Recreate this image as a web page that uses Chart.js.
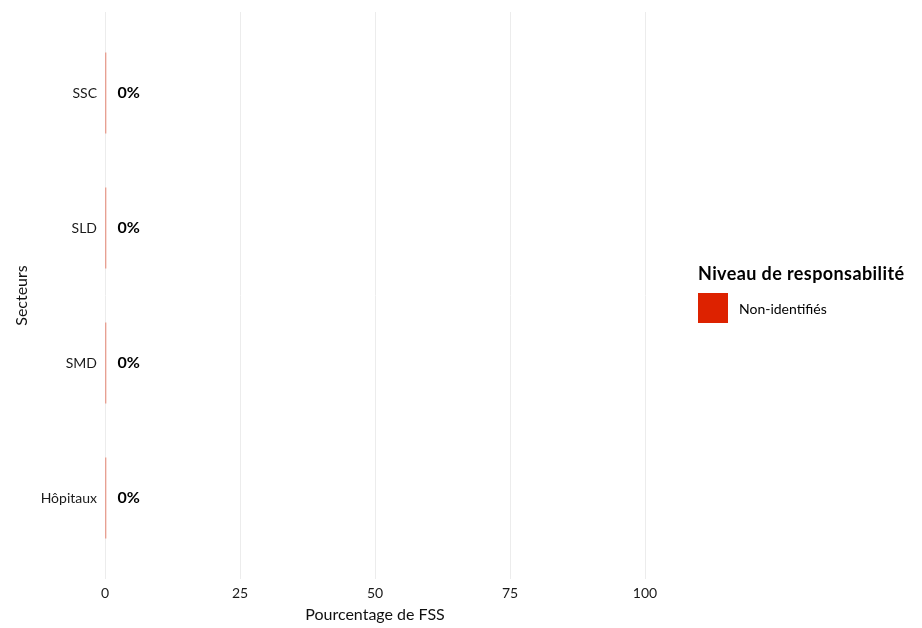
<!DOCTYPE html>
<html>
<head>
<meta charset="utf-8">
<script src="https://cdn.jsdelivr.net/npm/chart.js"></script>
<style>
  body { margin: 0; background: #fff; }
  #wrap { position: relative; width: 922px; height: 628px; font-family: Lato, "Open Sans", sans-serif; }
  #legend { position: absolute; left: 698px; top: 262px; color: #000; }
  #legend .title { font-weight: bold; font-size: 18px; letter-spacing: 0.4px; margin-bottom: 9px; }
  #legend .item { display: flex; align-items: center; font-size: 14px; }
  #legend .box { width: 30px; height: 30px; background: #DD2200; margin-right: 11px; }
</style>
</head>
<body>
<div id="wrap">
  <canvas id="chart" width="922" height="628"></canvas>
  <div id="legend">
    <div class="title">Niveau de responsabilité</div>
    <div class="item"><span class="box"></span><span>Non-identifiés</span></div>
  </div>
</div>
<script>
const categories = ['SSC', 'SLD', 'SMD', 'Hôpitaux'];
const values = [0, 0, 0, 0];
const xTicks = [0, 25, 50, 75, 100];

const fontFamily = 'Lato, "Open Sans", sans-serif';

// "0%" text next to each bar
const valueLabels = {
    id: 'valueLabels',
    afterDatasetsDraw(chart) {
        const ctx = chart.ctx;
        const meta = chart.getDatasetMeta(0);
        ctx.save();
        ctx.font = 'bold 16px ' + fontFamily;
        ctx.fillStyle = '#000';
        ctx.textAlign = 'left';
        ctx.textBaseline = 'middle';
        meta.data.forEach((bar, i) => {
            ctx.fillText(values[i] + '%', bar.base + 12, bar.y);
        });
        ctx.restore();
    }
};

const ctx = document.getElementById('chart').getContext('2d');
new Chart(ctx, {
    type: 'bar',
    data: {
        datasets: [{
            label: 'Non-identifiés',
            data: values.map((v, i) => ({ x: v, y: i })),
            backgroundColor: '#E0553A',
            minBarLength: 1.2,
            barPercentage: 0.6,
            categoryPercentage: 1
        }]
    },
    options: {
        indexAxis: 'y',
        responsive: false,
        animation: false,
        layout: { padding: { top: 12, right: 277, left: 0, bottom: 0 } },
        plugins: {
            legend: { display: false },
            tooltip: { enabled: false }
        },
        scales: {
            x: {
                type: 'linear',
                min: 0,
                max: 100,
                afterBuildTicks: scale => { scale.ticks = xTicks.map(v => ({ value: v })); },
                afterFit: scale => { scale.height = 49; },
                grid: { color: '#ececec', lineWidth: 1, drawTicks: false },
                border: { display: false },
                ticks: { color: '#1a1a1a', font: { family: fontFamily, size: 14 }, padding: 6 },
                title: {
                    display: true,
                    text: 'Pourcentage de FSS',
                    color: '#111',
                    font: { family: fontFamily, size: 16 },
                    padding: { top: 0, bottom: 4 }
                }
            },
            y: {
                type: 'linear',
                reverse: true,
                offset: false,
                min: -0.6,
                max: 3.6,
                afterBuildTicks: scale => { scale.ticks = categories.map((c, i) => ({ value: i })); },
                afterFit: scale => {
                    scale.width = 105;
                    scale.paddingTop = 0;
                    scale.paddingBottom = 0;
                },
                grid: { display: false, drawTicks: false },
                border: { display: false },
                ticks: {
                    color: '#1a1a1a',
                    font: { family: fontFamily, size: 14 },
                    padding: 8,
                    callback: v => categories[v]
                },
                title: {
                    display: true,
                    text: 'Secteurs',
                    color: '#111',
                    font: { family: fontFamily, size: 16 },
                    padding: { top: 12, bottom: 0 }
                }
            }
        }
    },
    plugins: [valueLabels]
});
</script>
</body>
</html>
